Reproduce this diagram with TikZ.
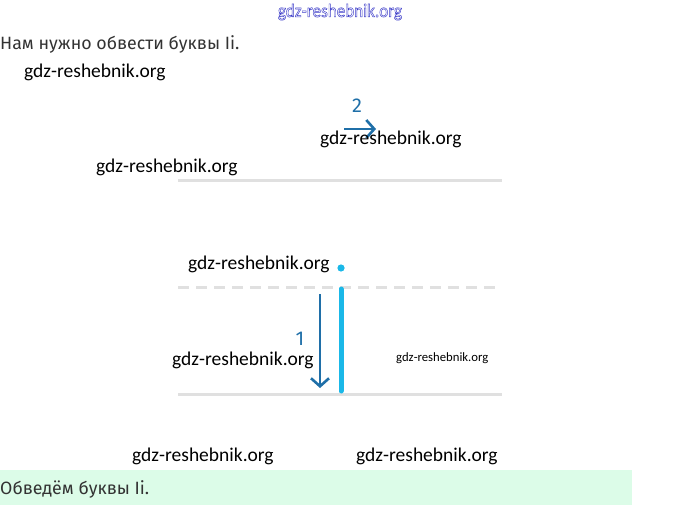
\documentclass[tikz,border=0pt]{standalone}
\usepackage{fontspec}
\setmainfont{Fira Sans}
\newfontfamily\wmfont{Carlito}
\usetikzlibrary{arrows.meta}
\definecolor{txt}{HTML}{333333}
\definecolor{rule}{HTML}{E0E0E0}
\definecolor{cyanl}{HTML}{1AB8E8}
\definecolor{arr}{HTML}{1F6FA8}
\definecolor{band}{HTML}{DCFCE8}
\definecolor{wmblue}{HTML}{3C3CC8}
\newcommand{\outlinetext}[1]{\special{pdf:literal direct 1 Tr 0.5 w}#1\special{pdf:literal direct 0 Tr}}
\tikzset{
  wm/.style={font=\wmfont\fontsize{19.5}{19.5}\selectfont, text=black, inner sep=0pt, anchor=west},
  wmsmall/.style={font=\wmfont\fontsize{12.7}{13}\selectfont, text=black, inner sep=0pt, anchor=west},
  body/.style={font=\fontsize{17.8}{17.8}\selectfont, text=txt, inner sep=0pt, anchor=west},
  num/.style={font=\fontsize{20}{20}\selectfont, text=arr, inner sep=0pt},
  guide/.style={draw=rule, line width=3pt},
  stroke/.style={draw=arr, line width=2.6pt, -{Straight Barb[length=8pt,width=18pt]}},
}
\begin{document}
\begin{tikzpicture}[x=1pt,y=-1pt]
\useasboundingbox (0,0) rectangle (680,505);
\fill[band] (0,470) rectangle (632,505);
\node[font=\wmfont\fontsize{19}{19}\selectfont, text=wmblue, inner sep=0pt, xscale=0.9] (wmtop) at (340,12) {\outlinetext{gdz-reshebnik.org}};
\node[body] (t1) at (0,44) {Нам нужно обвести буквы Ii.};
\node[body] (t2) at (0,489) {Обведём буквы Ii.};
% guide lines
\coordinate (l1a) at (178,181); \coordinate (l1b) at (502,181);
\coordinate (l2a) at (178,287); \coordinate (l2b) at (502,287);
\coordinate (l3a) at (178,394); \coordinate (l3b) at (502,394);
\draw[guide] (l1a) -- (l1b);
\draw[guide, dash pattern=on 11pt off 7pt] (l2a) -- (l2b);
\draw[guide] (l3a) -- (l3b);
% letter i
\fill[cyanl] (341,268) circle (3.6);
\coordinate (ia) at (341,289); \coordinate (ib) at (341,391);
\draw[cyanl, line width=5pt, line cap=round] (ia) -- (ib);
% stroke arrows
\coordinate (s1a) at (320,294); \coordinate (s1b) at (320,388);
\draw[stroke] (s1a) -- (s1b);
\node[num] (n1) at (300,339) {1};
\coordinate (s2a) at (344,129); \coordinate (s2b) at (376,129);
\draw[stroke] (s2a) -- (s2b);
\node[num] (n2) at (357,106) {2};
% watermarks
\node[wm] (w1) at (24,72) {gdz-reshebnik.org};
\node[wm] (w2) at (320,139) {gdz-reshebnik.org};
\node[wm] (w3) at (96,167) {gdz-reshebnik.org};
\node[wm] (w4) at (188,264) {gdz-reshebnik.org};
\node[wm] (w5) at (172,360) {gdz-reshebnik.org};
\node[wmsmall] (w6) at (396,358) {gdz-reshebnik.org};
\node[wm] (w7) at (132,456) {gdz-reshebnik.org};
\node[wm] (w8) at (356,456) {gdz-reshebnik.org};
\end{tikzpicture}
\end{document}
